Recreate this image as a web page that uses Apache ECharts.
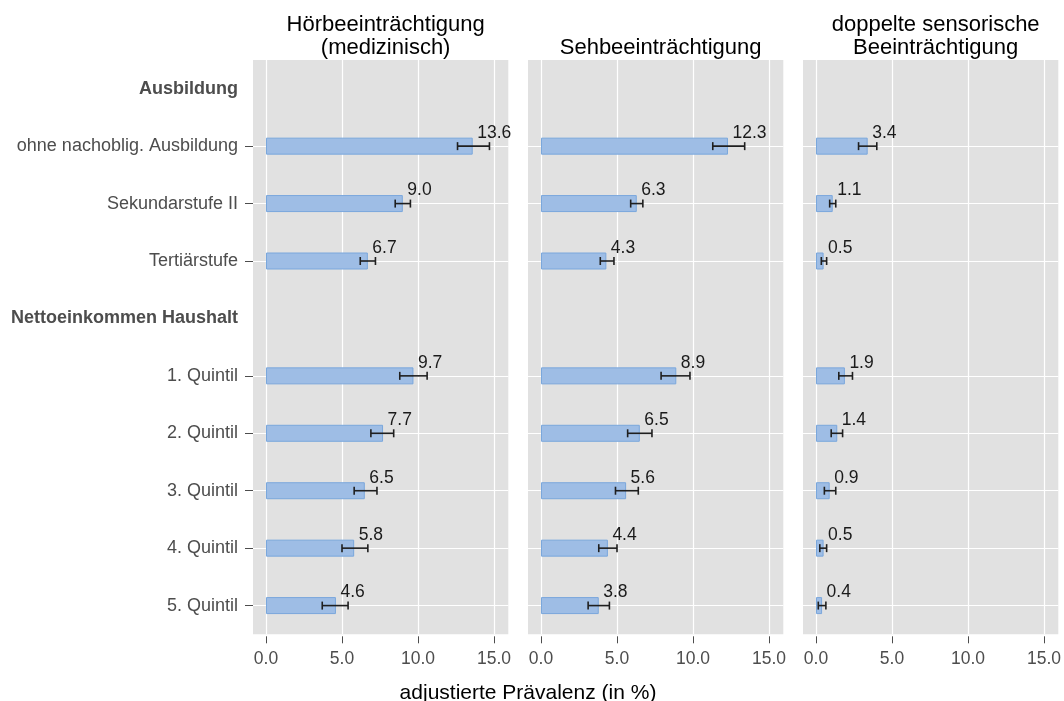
<!DOCTYPE html>
<html>
<head>
<meta charset="utf-8">
<script src="https://cdn.jsdelivr.net/npm/echarts@6/dist/echarts.min.js"></script>
<style>
  html, body { margin: 0; padding: 0; background: #fff; }
  #chart { width: 1064px; height: 701px; }
</style>
</head>
<body>
<div id="chart"></div>
<script>
var rows = ['Ausbildung', 'ohne nachoblig. Ausbildung', 'Sekundarstufe II', 'Tertiärstufe',
  'Nettoeinkommen Haushalt', '1. Quintil', '2. Quintil', '3. Quintil', '4. Quintil', '5. Quintil'];
var headerRows = ['Ausbildung', 'Nettoeinkommen Haushalt'];
var panelTitles = ['Hörbeeinträchtigung\n(medizinisch)', 'Sehbeeinträchtigung', 'doppelte sensorische\nBeeinträchtigung'];
var xTicks = [0, 5, 10, 15];
var xTitle = 'adjustierte Prävalenz (in %)';

var hoer = [null, 13.6, 9.0, 6.7, null, 9.7, 7.7, 6.5, 5.8, 4.6];
var hoerLo = [null, 12.6, 8.5, 6.2, null, 8.8, 6.9, 5.8, 5.0, 3.7];
var hoerHi = [null, 14.7, 9.5, 7.2, null, 10.6, 8.4, 7.3, 6.7, 5.4];

var seh = [null, 12.3, 6.3, 4.3, null, 8.9, 6.5, 5.6, 4.4, 3.8];
var sehLo = [null, 11.3, 5.9, 3.9, null, 7.9, 5.7, 4.9, 3.8, 3.1];
var sehHi = [null, 13.4, 6.7, 4.8, null, 9.8, 7.3, 6.4, 5.0, 4.5];

var dop = [null, 3.4, 1.1, 0.5, null, 1.9, 1.4, 0.9, 0.5, 0.4];
var dopLo = [null, 2.8, 0.9, 0.35, null, 1.5, 1.0, 0.55, 0.25, 0.15];
var dopHi = [null, 4.0, 1.3, 0.7, null, 2.4, 1.75, 1.3, 0.7, 0.65];

(function() {
  var FONT = '"Liberation Sans", Arial, sans-serif';
  var TXT = '#4d4d4d';
  var panels = [
    { val: hoer, lo: hoerLo, hi: hoerHi },
    { val: seh, lo: sehLo, hi: sehHi },
    { val: dop, lo: dopLo, hi: dopHi }
  ];

  // panel layout (pixels)
  var left0 = 253, step = 275, panelW = 255.3, zeroOff = 13;
  var top = 60, height = 574.3;
  var xMax = 15.94;

  function isHeader(index, value) {
    return headerRows.indexOf(value) < 0;
  }

  function renderErr(params, api) {
    var lo = api.coord([api.value(0), api.value(2)]);
    var hi = api.coord([api.value(1), api.value(2)]);
    var h = 4;
    var style = { stroke: '#1f1f1f', lineWidth: 1.6 };
    return {
      type: 'group',
      children: [
        { type: 'line', shape: { x1: lo[0], y1: lo[1], x2: hi[0], y2: hi[1] }, style: style },
        { type: 'line', shape: { x1: lo[0], y1: lo[1] - h, x2: lo[0], y2: lo[1] + h }, style: style },
        { type: 'line', shape: { x1: hi[0], y1: hi[1] - h, x2: hi[0], y2: hi[1] + h }, style: style }
      ]
    };
  }

  var grid = [], xAxis = [], yAxis = [], series = [], title = [];

  panels.forEach(function each(p, i) {
    var left = left0 + i * step;
    var errData = [];
    p.val.forEach(function(v, k) {
      if (v !== null) {
        errData.push([p.lo[k], p.hi[k], k]);
      }
    });

    // background grid: grey panel + horizontal grid lines
    grid.push({ left: left, top: top, width: panelW, height: height, show: true,
      backgroundColor: '#e1e1e1', borderWidth: 0 });
    // data grid: starts at x = 0
    grid.push({ left: left + zeroOff, top: top, width: panelW - zeroOff, height: height });

    xAxis.push({ type: 'value', gridIndex: 2 * i, min: 0, max: 1, show: false });
    xAxis.push({
      type: 'value', gridIndex: 2 * i + 1, min: 0, max: xMax, interval: 5,
      offset: 2,
      axisLine: { show: false },
      axisTick: { show: true, length: 7, customValues: xTicks, lineStyle: { color: TXT } },
      axisLabel: {
        customValues: xTicks, margin: 14, fontSize: 17.5, color: TXT, fontFamily: FONT,
        formatter: function(v) { return v % 5 === 0 ? v.toFixed(1) : ''; }
      },
      splitLine: { show: true, lineStyle: { color: '#ffffff', width: 1.2 } }
    });

    yAxis.push({
      type: 'category', gridIndex: 2 * i, data: rows, inverse: true,
      offset: 2,
      axisLine: { show: false },
      axisTick: { show: i === 0, alignWithLabel: true, interval: isHeader, length: 8,
        lineStyle: { color: TXT } },
      axisLabel: {
        show: i === 0, interval: 0, margin: 13, fontSize: 18, color: TXT, fontFamily: FONT,
        formatter: function(v) { return headerRows.indexOf(v) >= 0 ? '{h|' + v + '}' : v; },
        rich: { h: { fontWeight: 'bold', fontSize: 18, color: TXT, fontFamily: FONT } }
      },
      splitLine: { show: true, alignWithLabel: true, interval: isHeader,
        lineStyle: { color: '#ffffff', width: 1.2 } }
    });
    yAxis.push({ type: 'category', gridIndex: 2 * i + 1, data: rows, inverse: true, show: false });

    series.push({
      type: 'bar', xAxisIndex: 2 * i + 1, yAxisIndex: 2 * i + 1,
      data: p.val.map(function(v) { return v === null ? '-' : v; }),
      barWidth: 17,
      itemStyle: { color: '#9ebde5', borderColor: '#7aa7dc', borderWidth: 1 },
      label: {
        show: true, position: 'right', distance: 4.5, offset: [0, -13],
        fontSize: 17.5, color: '#1a1a1a', fontFamily: FONT,
        formatter: function(d) { return d.value.toFixed(1); }
      },
      z: 2
    });
    series.push({
      type: 'custom', xAxisIndex: 2 * i + 1, yAxisIndex: 2 * i + 1,
      renderItem: renderErr, data: errData,
      encode: { x: [0, 1], y: 2 }, z: 3
    });

    title.push({
      text: panelTitles[i],
      left: left + panelW / 2, textAlign: 'center',
      top: panelTitles[i].indexOf('\n') >= 0 ? 8 : 31,
      textStyle: { fontSize: 22, fontWeight: 'normal', color: '#000', lineHeight: 23, fontFamily: FONT }
    });
  });

  title.push({
    text: xTitle, left: 523, textAlign: 'center', top: 678,
    textStyle: { fontSize: 21, fontWeight: 'normal', color: '#000', fontFamily: FONT }
  });

  var myChart = echarts.init(document.getElementById('chart'));
  myChart.setOption({
    animation: false,
    title: title,
    grid: grid,
    xAxis: xAxis,
    yAxis: yAxis,
    series: series
  });
})();
</script>
</body>
</html>
